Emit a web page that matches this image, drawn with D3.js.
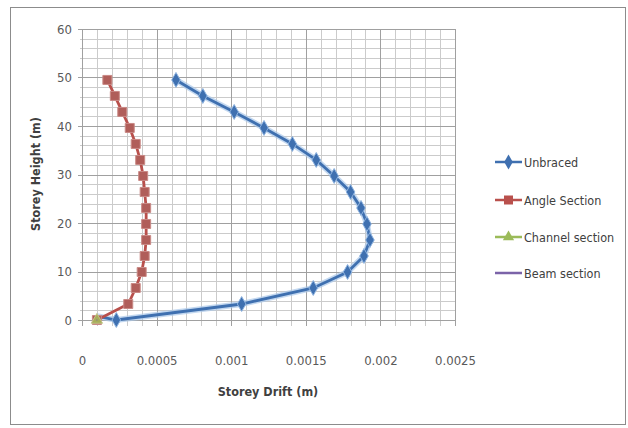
<!DOCTYPE html>
<html>
<head>
<meta charset="utf-8">
<script src="https://cdn.jsdelivr.net/npm/d3@7/dist/d3.min.js"></script>
<style>
  html, body { margin: 0; padding: 0; background: #fff; }
  svg { display: block; }
  text { font-family: "Liberation Sans Narrow", "DejaVu Sans Condensed", "Arial Narrow", sans-serif; }
</style>
</head>
<body>
<svg id="chart" width="628" height="428"></svg>
<script>
// Storey heights (m) for each floor level
const heights = [0, 3.3, 6.6, 9.9, 13.2, 16.5, 19.8, 23.1, 26.4, 29.7, 33, 36.3, 39.6, 42.9, 46.2, 49.5];

// Storey drift (m) per level
const unbracedDrift = [0.00023, 0.00107, 0.00155, 0.00178, 0.00189, 0.00193, 0.00191, 0.00187, 0.0018, 0.00169, 0.00157, 0.00141, 0.00122, 0.00102, 0.00081, 0.00063];
const angleDrift    = [0.0001, 0.00031, 0.00036, 0.0004, 0.00042, 0.00043, 0.00043, 0.00043, 0.00042, 0.00041, 0.00039, 0.00036, 0.00032, 0.00027, 0.00022, 0.00017];
// base point where the unbraced curve closes onto the support
const unbracedBase  = { x: 0.0001, y: 0.8 };
const channelDrift  = [0.0001];
const channelHeight = [0];
const beamDrift     = [0.0001];
const beamHeight    = [0];

const xTicks = [0, 0.0005, 0.001, 0.0015, 0.002, 0.0025];
const yTicks = [0, 10, 20, 30, 40, 50, 60];
const xMinor = d3.range(0, 26).map(i => i * 0.0001);
const yMinor = d3.range(0, 31).map(i => i * 2);

const seriesNames = ["Unbraced", "Angle Section", "Channel section", "Beam section"];
const colors = ["#3f70b0", "#b9504c", "#9bbb59", "#7b63a8"];

const svg = d3.select("#chart");

// outer chart frame
svg.append("rect")
  .attr("x", 10.5).attr("y", 7.5).attr("width", 615).attr("height", 417)
  .attr("fill", "#fff").attr("stroke", "#8c8c8c").attr("stroke-width", 1);

const plot = { left: 82, right: 455, top: 29, bottom: 320 };
const x = d3.scaleLinear().domain([0, 0.0025]).range([plot.left, plot.right]);
const y = d3.scaleLinear().domain([0, 60]).range([plot.bottom, plot.top]);

const grid = svg.append("g");
// minor gridlines
grid.selectAll("line.vmin").data(xMinor).join("line")
  .attr("x1", d => Math.round(x(d)) + 0.5).attr("x2", d => Math.round(x(d)) + 0.5)
  .attr("y1", plot.top).attr("y2", plot.bottom + 6)
  .attr("stroke", "#cbcbcb").attr("stroke-width", 1);
grid.selectAll("line.hmin").data(yMinor).join("line")
  .attr("y1", d => Math.round(y(d)) + 0.5).attr("y2", d => Math.round(y(d)) + 0.5)
  .attr("x1", plot.left - 2).attr("x2", plot.right)
  .attr("stroke", "#cbcbcb").attr("stroke-width", 1);
// major gridlines
grid.selectAll("line.vmaj").data(xTicks).join("line")
  .attr("x1", d => Math.round(x(d)) + 0.5).attr("x2", d => Math.round(x(d)) + 0.5)
  .attr("y1", plot.top).attr("y2", plot.bottom + 6)
  .attr("stroke", "#a0a0a0").attr("stroke-width", 1);
grid.selectAll("line.hmaj").data(yTicks).join("line")
  .attr("y1", d => Math.round(y(d)) + 0.5).attr("y2", d => Math.round(y(d)) + 0.5)
  .attr("x1", plot.left - 4).attr("x2", plot.right)
  .attr("stroke", "#a0a0a0").attr("stroke-width", 1);

// axis tick labels
const xAxis = d3.axisBottom(x).tickValues(xTicks).tickSize(0).tickPadding(0).tickFormat(d => String(d));
svg.append("g").attr("transform", `translate(0,${plot.bottom + 36})`).call(xAxis)
  .call(g => g.select(".domain").remove())
  .selectAll("text").attr("font-size", 13).attr("fill", "#595959")
  .attr("font-family", "'Liberation Sans Narrow', 'DejaVu Sans Condensed', sans-serif");

const yAxis = d3.axisLeft(y).tickValues(yTicks).tickSize(0).tickPadding(10).tickFormat(d => String(d));
svg.append("g").attr("transform", `translate(${plot.left},0)`).call(yAxis)
  .call(g => g.select(".domain").remove())
  .selectAll("text").attr("font-size", 13).attr("fill", "#595959")
  .attr("font-family", "'Liberation Sans Narrow', 'DejaVu Sans Condensed', sans-serif");

// axis titles
svg.append("text")
  .attr("transform", `translate(40,174) rotate(-90)`)
  .attr("text-anchor", "middle").attr("font-size", 12.5).attr("font-weight", "bold")
  .attr("fill", "#404040").text("Storey Height (m)");
svg.append("text")
  .attr("x", 268).attr("y", 396)
  .attr("text-anchor", "middle").attr("font-size", 12.5).attr("font-weight", "bold")
  .attr("fill", "#404040").text("Storey  Drift (m)");

const line = d3.line().x(d => x(d.x)).y(d => y(d.y));

const unbraced = heights.map((h, i) => ({ x: unbracedDrift[i], y: h }));
const unbracedPath = [unbracedBase].concat(unbraced).reverse();
const angle = heights.map((h, i) => ({ x: angleDrift[i], y: h }));
const channel = channelHeight.map((h, i) => ({ x: channelDrift[i], y: h }));
const beam = beamHeight.map((h, i) => ({ x: beamDrift[i], y: h }));

const diamond = d3.symbol().type(d3.symbolDiamond).size(64);
const square = d3.symbol().type(d3.symbolSquare).size(81);
const triangle = d3.symbol().type(d3.symbolTriangle).size(55);

// Unbraced: soft halo under the line
svg.append("path").datum(unbracedPath).attr("d", line)
  .attr("fill", "none").attr("stroke", "#a9c8ea").attr("stroke-width", 6).attr("opacity", 0.7);
svg.append("path").datum(unbracedPath).attr("d", line)
  .attr("fill", "none").attr("stroke", colors[0]).attr("stroke-width", 2.8);
svg.append("g").selectAll("path").data(unbraced).join("path")
  .attr("transform", d => `translate(${x(d.x)},${y(d.y)})`)
  .attr("d", diamond).attr("fill", colors[0]).attr("stroke", "#8fb4e0").attr("stroke-width", 1);

// Angle section
svg.append("path").datum(angle).attr("d", line)
  .attr("fill", "none").attr("stroke", colors[1]).attr("stroke-width", 2.8);
svg.append("g").selectAll("path").data(angle).join("path")
  .attr("transform", d => `translate(${x(d.x)},${y(d.y)})`)
  .attr("d", square).attr("fill", "#b05e5a").attr("stroke", "#c98a86").attr("stroke-width", 1);

// Channel section
svg.append("g").selectAll("path").data(channel).join("path")
  .attr("transform", d => `translate(${x(d.x)},${y(d.y)})`)
  .attr("d", triangle).attr("fill", "#a7ae5a").attr("stroke", "#c2c48a").attr("stroke-width", 1);

// Beam section
svg.append("g").selectAll("path").data(beam).join("path")
  .attr("transform", d => `translate(${x(d.x)},${y(d.y)})`)
  .attr("d", d3.symbol().type(d3.symbolCross).size(1)).attr("fill", colors[3]);

// legend
const legend = svg.append("g").attr("transform", "translate(495,0)");
const legendY = [162, 200, 237, 273];
const legendMarkers = [diamond, square, triangle, null];
seriesNames.forEach((name, i) => {
  const g = legend.append("g").attr("transform", `translate(0,${legendY[i]})`);
  g.append("line").attr("x1", 0).attr("x2", 27).attr("y1", 0).attr("y2", 0)
    .attr("stroke", colors[i]).attr("stroke-width", 2.5);
  if (legendMarkers[i]) {
    g.append("path").attr("transform", "translate(13.5,0)").attr("d", legendMarkers[i])
      .attr("fill", colors[i]);
  }
  g.append("text").attr("x", 29).attr("y", 5).attr("font-size", 12.5)
    .attr("fill", "#404040").text(name);
});
</script>
</body>
</html>
